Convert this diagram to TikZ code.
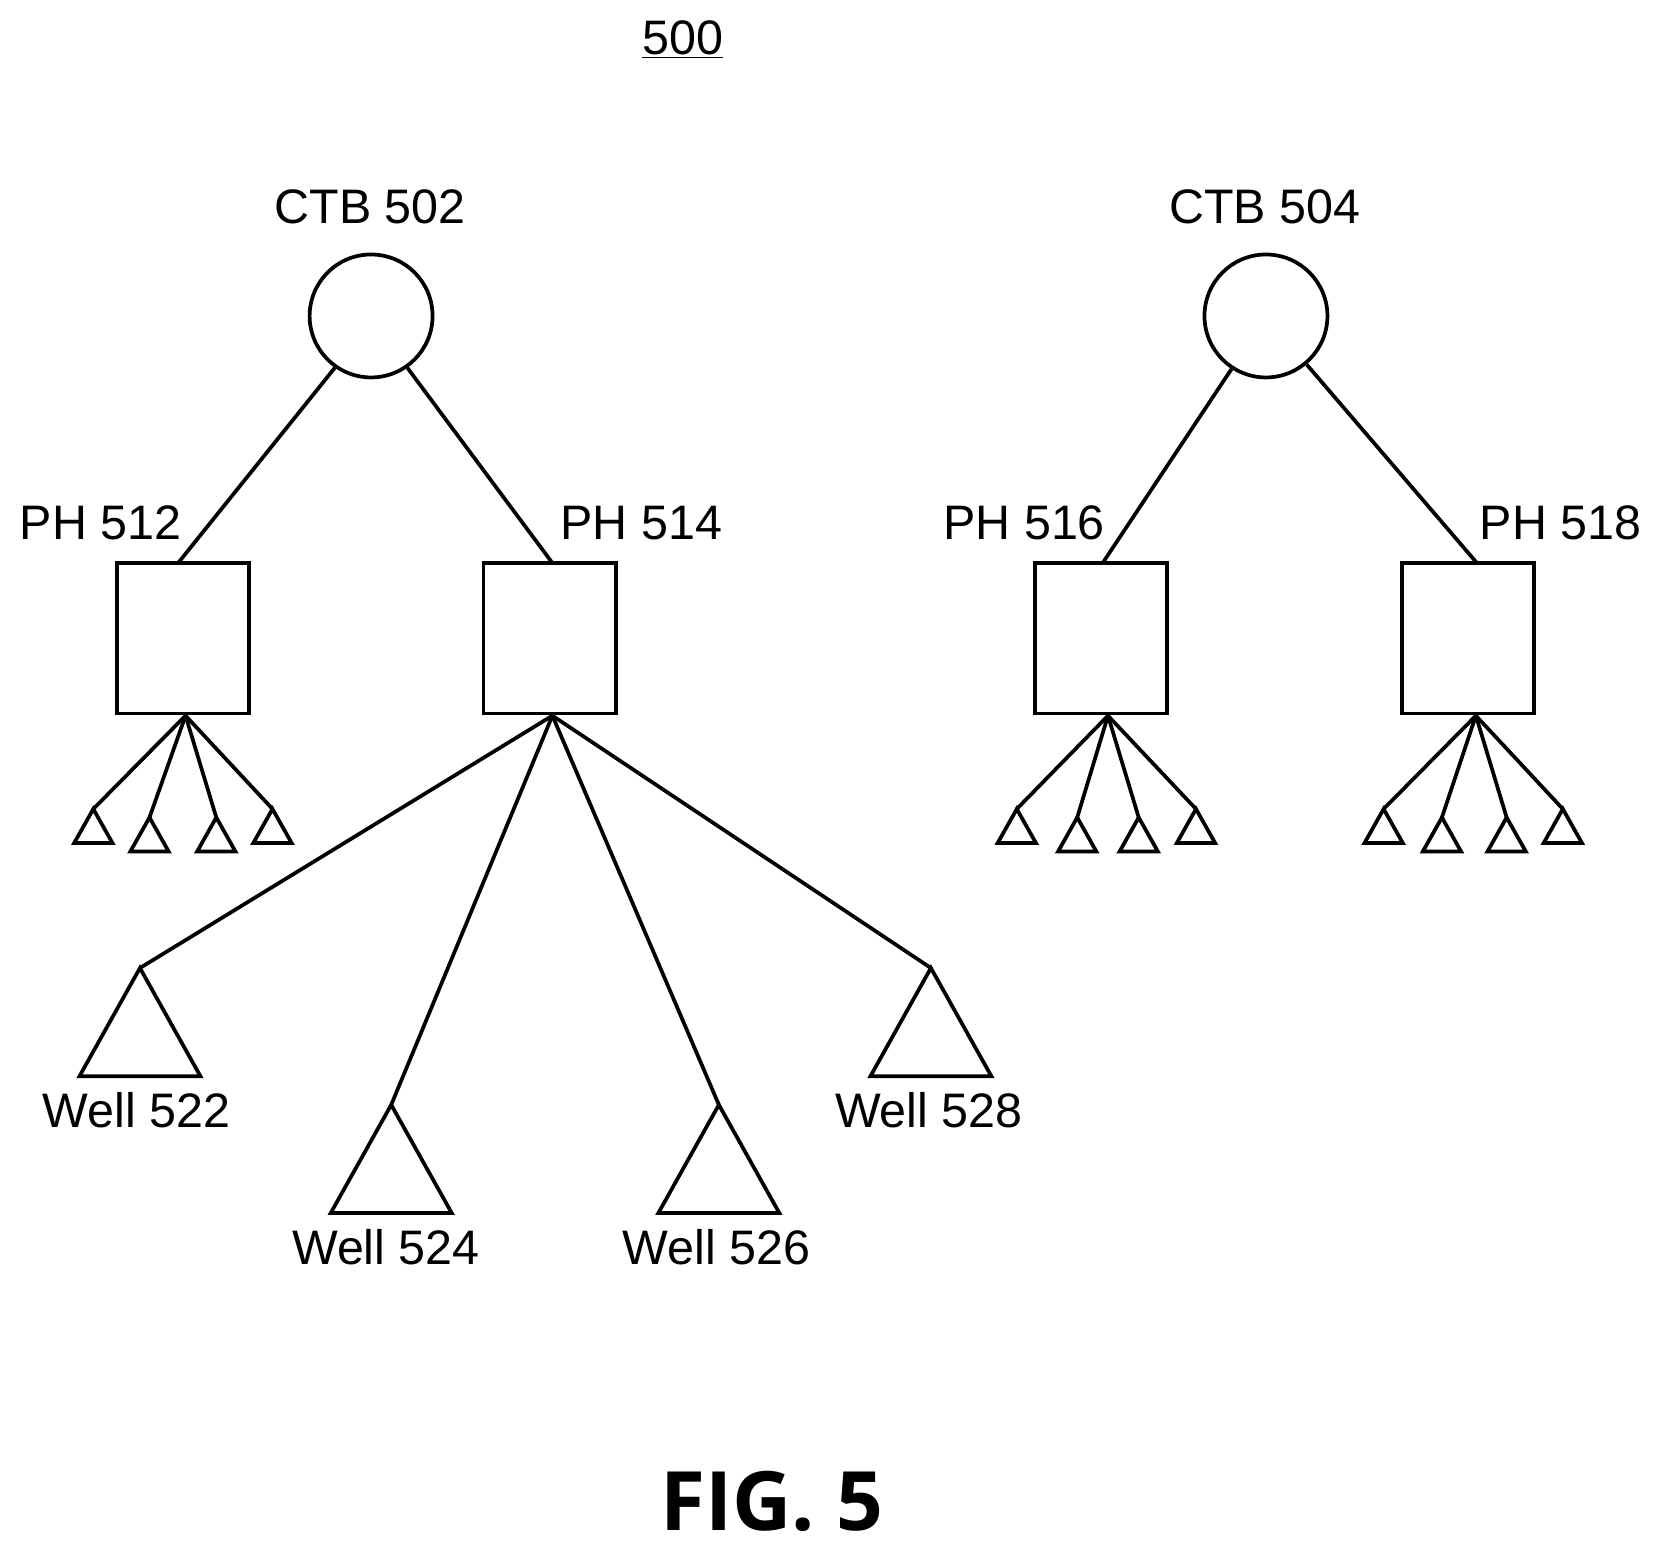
\documentclass[tikz,border=0pt]{standalone}
\usepackage{fontspec}
\setmainfont{Liberation Sans}
\newfontfamily\figfont{Open Sans}
\begin{document}
\begin{tikzpicture}[x=0.02cm,y=-0.02cm,line width=2pt,
  lbl/.style={font=\fontsize{26}{30}\selectfont,inner sep=0},
  ph/.style={draw,minimum width=2.5cm,minimum height=2.84cm,inner sep=0},
  ctb/.style={draw,circle,minimum size=2.32cm,inner sep=0}]
\useasboundingbox (0,0) rectangle (1560,1461);
\node[lbl] (t500) at (644,37) {\underline{500}};
\node[lbl] (l502) at (349,195) {CTB 502};
\node[lbl] (l504) at (1193,195) {CTB 504};
\node[ctb] (c502) at (350,298) {};
\node[ctb] (c504) at (1194,298) {};
\node[ph] (p512) at (172.5,602) {};
\node[ph] (p514) at (518.5,602) {};
\node[ph] (p516) at (1038.5,602) {};
\node[ph] (p518) at (1384.5,602) {};
\node[lbl] at (95,493) {PH 512};
\node[lbl] at (605,493) {PH 514};
\node[lbl] at (966,493) {PH 516};
\node[lbl] at (1472,493) {PH 518};
\coordinate (a1) at (168,531); \coordinate (a2) at (521,531);
\coordinate (a3) at (1040,531); \coordinate (a4) at (1393,531);
\draw (c502.235) -- (a1); \draw (c502.305) -- (a2);
\draw (c504.237) -- (a3); \draw (c504.310) -- (a4);
% small fans
\foreach \ox/\ax/\bx/\cx/\dx in {175/88/141/204/257, 1045/959/1016/1074/1128, 1392/1305/1360/1421/1474}{
  \coordinate (o) at (\ox,675);
  \foreach \x/\yy in {\ax/763,\bx/771,\cx/771,\dx/763}{
    \draw[line join=round] (o) -- (\x,\yy);
    \draw (\x,\yy) -- ++(-18,32) -- ++(36,0) -- cycle;
  }
}
% large wells
\coordinate (o5) at (521,675);
\foreach \x/\yy in {132/913,369/1042,678/1042,878/913}{
  \draw (o5) -- (\x,\yy);
  \draw (\x,\yy) -- ++(-57,102) -- ++(114,0) -- cycle;
}
\node[lbl] at (129,1047) {Well 522};
\node[lbl] at (364,1176) {Well 524};
\node[lbl] at (676,1176) {Well 526};
\node[lbl] at (876,1047) {Well 528};
\node[font=\figfont\bfseries\fontsize{44}{48}\selectfont,inner sep=0] at (728,1416) {FIG. 5};
\end{tikzpicture}
\end{document}
